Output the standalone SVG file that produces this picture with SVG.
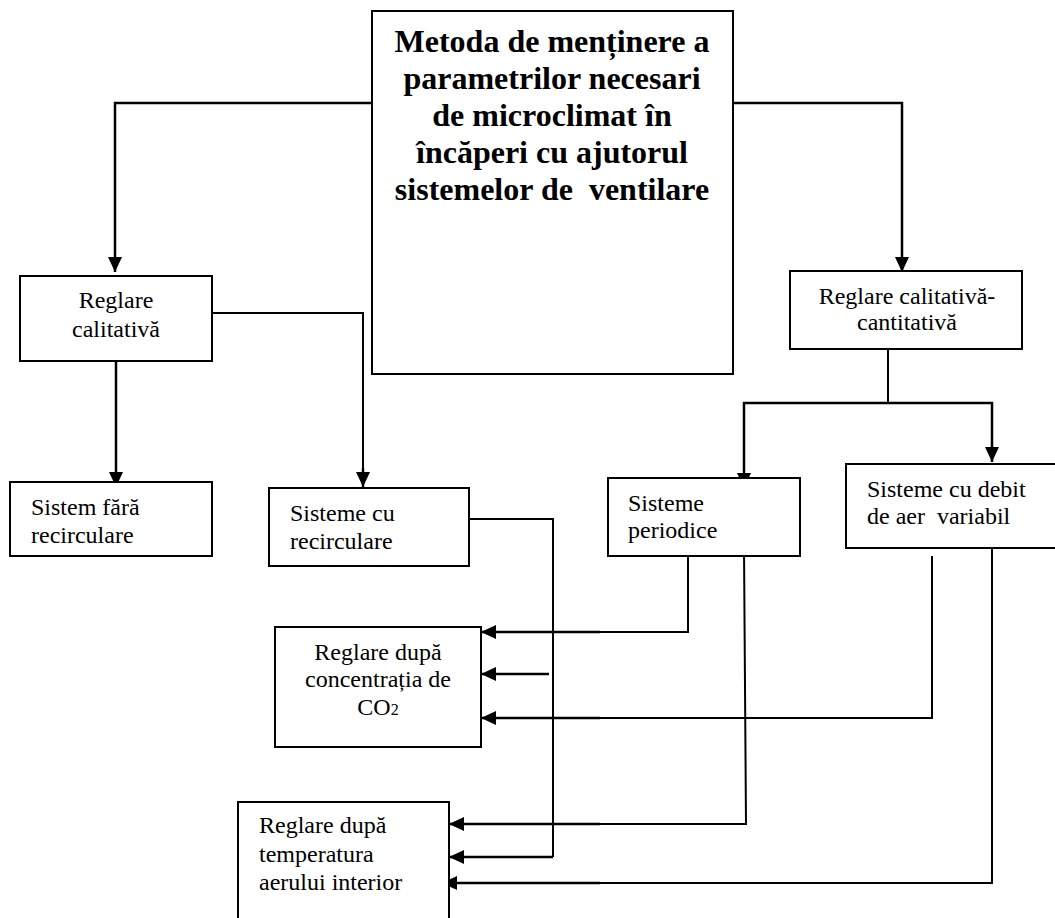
<svg xmlns="http://www.w3.org/2000/svg" width="1055" height="918" viewBox="0 0 1055 918">
<defs>
<marker id="ah" markerUnits="userSpaceOnUse" viewBox="0 0 15 14" markerWidth="15" markerHeight="14" refX="15" refY="7" orient="auto">
<path d="M0,0 L15,7 L0,14 z" fill="#000"/>
</marker>
<style>
.box{fill:#fff;stroke:#000;stroke-width:2}
.t{font-family:"Liberation Serif","Times New Roman",serif;font-size:24px;fill:#000;white-space:pre}
.c{text-anchor:middle}
.title{font-family:"Liberation Serif","Times New Roman",serif;font-size:32px;font-weight:bold;fill:#000;text-anchor:middle;white-space:pre}
.ln{fill:none;stroke:#000;stroke-width:2}
.ar{fill:none;stroke:#000;stroke-width:2.5;marker-end:url(#ah)}
</style>
</defs>
<g id="connectors">
<polyline class="ar" points="372,103 115,103 115,272"/>
<polyline class="ar" points="733,103 902,103 902,272"/>
<polyline class="ar" points="116,361 116,487"/>
<polyline class="ln" points="205,313 363,313 363,470"/>
<line class="ar" x1="363" y1="468" x2="363" y2="487"/>
<line class="ln" x1="888" y1="342" x2="888" y2="403"/>
<polyline class="ar" points="888,403 744,403 744,488"/>
<polyline class="ar" points="888,403 992,403 992,462"/>
<polyline class="ln" points="469,519 553,519 553,857"/>
<polyline class="ln" points="688,548 688,632 600,632"/>
<line class="ar" x1="600" y1="632" x2="481" y2="632"/>
<line class="ar" x1="549" y1="674" x2="481" y2="674"/>
<polyline class="ln" points="932,556 932,718 600,718"/>
<line class="ar" x1="600" y1="718" x2="481" y2="718"/>
<polyline class="ln" points="744,548 746,824 600,824"/>
<line class="ar" x1="600" y1="824" x2="449" y2="824"/>
<line class="ar" x1="553" y1="857" x2="449" y2="857"/>
<polyline class="ln" points="992,548 992,883 600,883"/>
<line class="ar" x1="600" y1="883" x2="442" y2="883"/>
</g>
<g id="main">
<rect class="box" x="372" y="11" width="361" height="363"/>
<text class="title" x="552" y="52">Metoda de menținere a</text>
<text class="title" x="552" y="89">parametrilor necesari</text>
<text class="title" x="552" y="126">de microclimat în</text>
<text class="title" x="552" y="163">încăperi cu ajutorul</text>
<text class="title" x="552" y="200">sistemelor de  ventilare</text>
</g>
<g id="reglare-calitativa">
<rect class="box" x="20" y="276" width="192" height="85"/>
<text class="t c" x="116" y="308">Reglare</text>
<text class="t c" x="116" y="337">calitativă</text>
</g>
<g id="reglare-cal-cant">
<rect class="box" x="790" y="271" width="232" height="78"/>
<text class="t c" x="907" y="304">Reglare calitativă-</text>
<text class="t c" x="907" y="330">cantitativă</text>
</g>
<g id="sistem-fara">
<rect class="box" x="10" y="482" width="202" height="74"/>
<text class="t" x="31" y="515">Sistem fără</text>
<text class="t" x="31" y="543">recirculare</text>
</g>
<g id="sisteme-recirculare">
<rect class="box" x="269" y="488" width="200" height="78"/>
<text class="t" x="290" y="521">Sisteme cu</text>
<text class="t" x="290" y="549">recirculare</text>
</g>
<g id="sisteme-periodice">
<rect class="box" x="608" y="478" width="192" height="78"/>
<text class="t" x="628" y="511">Sisteme</text>
<text class="t" x="628" y="538">periodice</text>
</g>
<g id="sisteme-debit">
<rect class="box" x="846" y="464" width="220" height="84"/>
<text class="t" x="867" y="497">Sisteme cu debit</text>
<text class="t" x="867" y="524">de aer  variabil</text>
</g>
<g id="reglare-co2">
<rect class="box" x="275" y="627" width="206" height="120"/>
<text class="t c" x="378" y="660">Reglare după</text>
<text class="t c" x="378" y="687">concentrația de</text>
<text class="t c" x="378" y="715">CO<tspan font-size="16">2</tspan></text>
</g>
<g id="reglare-temp">
<rect class="box" x="238" y="802" width="211" height="130"/>
<text class="t" x="259" y="833">Reglare după</text>
<text class="t" x="259" y="862">temperatura</text>
<text class="t" x="259" y="890">aerului interior</text>
</g>
</svg>
